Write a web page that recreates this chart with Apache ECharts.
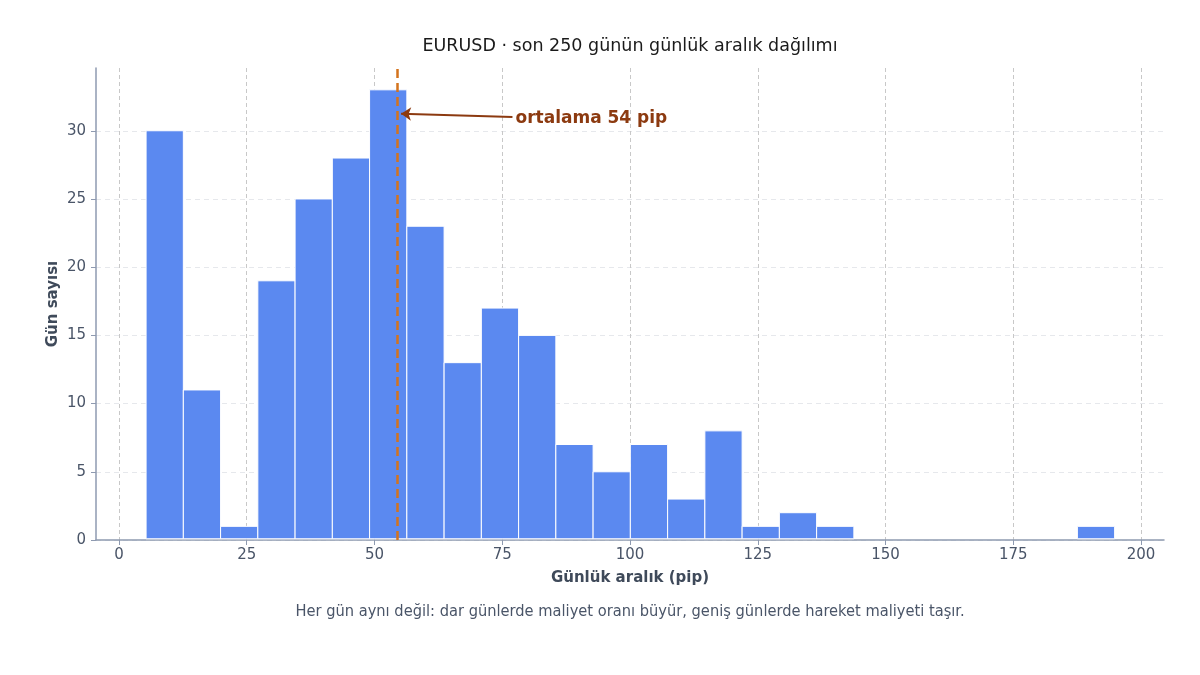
<!DOCTYPE html>
<html>
<head>
<meta charset="utf-8">
<script src="https://cdn.jsdelivr.net/npm/echarts@6/dist/echarts.min.js"></script>
<style>
  html, body { margin: 0; padding: 0; background: #fff; }
  #chart { width: 1200px; height: 675px; }
</style>
</head>
<body>
<div id="chart"></div>
<script>
// histogram bins: first edge and width in pip, then counts per bin
var binStart = 5.3;
var binWidth = 7.29;
var counts = [30, 11, 1, 19, 25, 28, 33, 23, 13, 17, 15, 7, 5, 7, 3, 8, 1, 2, 1, 0, 0, 0, 0, 0, 0, 1];
var meanPip = 54.4;
var xTicks = [0, 25, 50, 75, 100, 125, 150, 175, 200];
var yTicks = [0, 5, 10, 15, 20, 25, 30];
var arrowFrom = [77.0, 31.0];
var arrowTo = [55.2, 31.25];

var fontMain = 'DejaVu Sans';
var histData = [];
for (var i = 0; i < counts.length; i++) {
    var lo = binStart + i * binWidth;
    histData.push([lo, lo + binWidth, counts[i]]);
}

var chart = echarts.init(document.getElementById('chart'));

function renderBin(params, api) {
    if (!api.value(2)) {
        return null;
    }
    var p1 = api.coord([api.value(0), api.value(2)]);
    var p2 = api.coord([api.value(1), 0]);
    // stop just above the axis line so it stays visible under the bars
    return {
        type: 'rect',
        shape: { x: p1[0], y: p1[1], width: p2[0] - p1[0], height: p2[1] - p1[1] - 1.2 },
        style: { fill: '#5b89f0', stroke: '#ffffff', lineWidth: 1 }
    };
}

var option = {
    animation: false,
    textStyle: { fontFamily: fontMain },
    title: [{
        text: 'EURUSD · son 250 günün günlük aralık dağılımı',
        left: 625, top: 32, textAlign: 'center',
        textStyle: { fontFamily: fontMain, fontSize: 17.5, fontWeight: 'normal', color: '#1a1a1a' }
    }, {
        text: 'Her gün aynı değil: dar günlerde maliyet oranı büyür, geniş günlerde hareket maliyeti taşır.',
        left: 625, top: 599, textAlign: 'center',
        textStyle: { fontFamily: 'DejaVu Sans Condensed', fontSize: 16.3, fontWeight: 'normal', color: '#4a5568' }
    }],
    grid: { left: 96, right: 36, top: 68, bottom: 135, containLabel: false },
    xAxis: {
        type: 'value', min: -4.5, max: 204.5,
        name: 'Günlük aralık (pip)', nameLocation: 'middle', nameGap: 31,
        nameTextStyle: { fontFamily: fontMain, fontSize: 15, fontWeight: 'bold', color: '#3f4a5a' },
        axisLine: { onZero: false, lineStyle: { color: '#8e9ab0', width: 1.5 } },
        axisTick: { show: true, customValues: xTicks, length: 5, lineStyle: { color: '#8e9ab0' } },
        axisLabel: { customValues: xTicks, fontSize: 15, color: '#4a5568', margin: 8 },
        splitLine: { show: true, lineStyle: { color: '#c8c8c8', type: [4, 3], width: 1 } }
    },
    yAxis: {
        type: 'value', min: 0, max: 34.6,
        name: 'Gün sayısı', nameLocation: 'middle', nameGap: 35, nameMoveOverlap: false,
        nameTextStyle: { fontFamily: fontMain, fontSize: 15, fontWeight: 'bold', color: '#3f4a5a' },
        axisLine: { show: true, onZero: false, lineStyle: { color: '#8e9ab0', width: 1.5 } },
        axisTick: { show: true, customValues: yTicks, length: 5, lineStyle: { color: '#8e9ab0' } },
        axisLabel: { customValues: yTicks, fontSize: 15, color: '#4a5568', margin: 10 },
        splitLine: { show: true, lineStyle: { color: '#e6e8ec', type: [5, 4], width: 1 } }
    },
    series: [{
        type: 'custom',
        renderItem: renderBin,
        encode: { x: [0, 1], y: 2 },
        data: histData,
        z: 2
    }, {
        type: 'line',
        data: [],
        z: 5,
        markLine: {
            silent: true,
            symbol: 'none',
            label: { show: false },
            lineStyle: { color: '#d4731c', type: [9, 5], width: 2.5 },
            data: [{ xAxis: meanPip }]
        }
    }, {
        type: 'line',
        data: [],
        z: 6,
        markLine: {
            silent: true,
            symbol: ['none', 'arrow'],
            symbolSize: [10, 10],
            label: { show: false },
            lineStyle: { color: '#8c3a10', type: 'solid', width: 2 },
            data: [[{ coord: arrowFrom }, { coord: arrowTo }]]
        }
    }, {
        type: 'scatter',
        symbolSize: 0,
        z: 7,
        itemStyle: { opacity: 1 },
        data: [arrowFrom],
        label: {
            show: true, position: 'right', distance: 3, offset: [0, 1],
            opacity: 1,
            formatter: 'ortalama 54 pip',
            fontFamily: fontMain, fontSize: 17, fontWeight: 'bold', color: '#8c3a10'
        }
    }]
};

chart.setOption(option);
</script>
</body>
</html>
